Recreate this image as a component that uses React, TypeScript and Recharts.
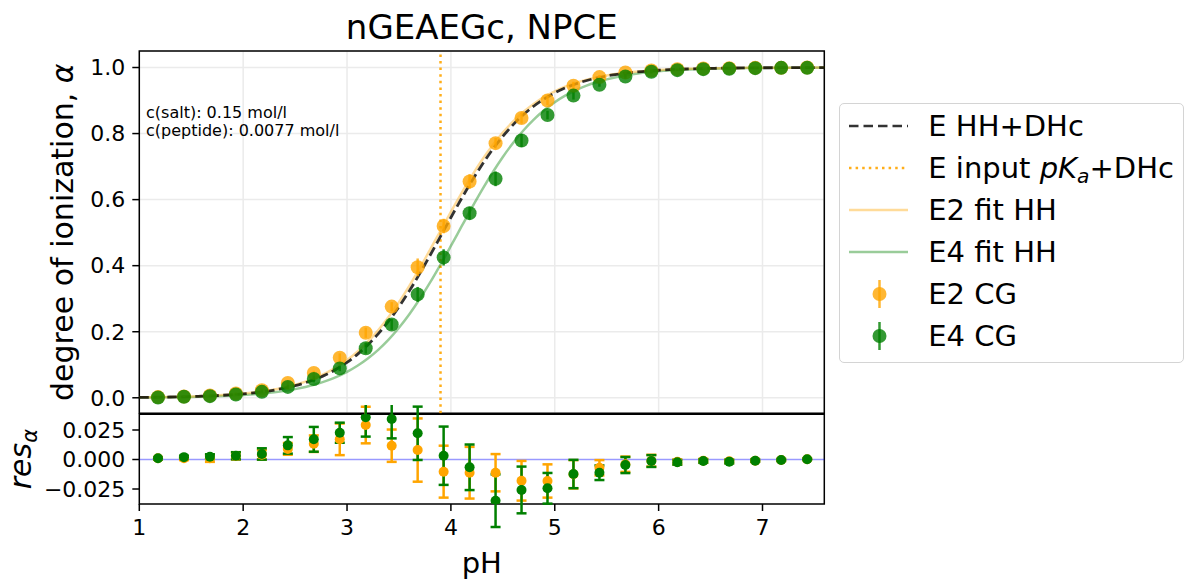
import React from 'react';
import { ComposedChart, Line, Scatter, ErrorBar, XAxis, YAxis, CartesianGrid, ReferenceLine, ReferenceArea, Label } from 'recharts';

const FONT = '"DejaVu Sans", sans-serif';
const ORANGE = '#FFA500';
const GREEN = '#008000';

// titration points (pH) and degree of ionization from the CG simulations
const pointPh = [1.18, 1.43, 1.68, 1.93, 2.18, 2.43, 2.68, 2.93, 3.18, 3.43, 3.68, 3.93, 4.18,
  4.43, 4.68, 4.93, 5.18, 5.43, 5.68, 5.93, 6.18, 6.43, 6.68, 6.93, 7.18, 7.43];
const e2Alpha = [0.002, 0.004, 0.007, 0.013, 0.023, 0.045, 0.075, 0.121, 0.197, 0.276, 0.395, 0.520, 0.655,
  0.771, 0.847, 0.900, 0.945, 0.971, 0.985, 0.991, 0.995, 0.997, 0.998, 0.999, 0.999, 1.000];
const e4Alpha = [0.001, 0.003, 0.005, 0.010, 0.018, 0.033, 0.057, 0.089, 0.150, 0.222, 0.313, 0.425, 0.559,
  0.663, 0.779, 0.856, 0.915, 0.948, 0.973, 0.987, 0.992, 0.995, 0.996, 0.998, 0.999, 0.999];
const e2Err = [0.001, 0.0015, 0.003, 0.003, 0.004, 0.005, 0.007, 0.0134, 0.0155, 0.0137, 0.0268, 0.022, 0.0219,
  0.0158, 0.0168, 0.0141, 0.012, 0.0065, 0.0065, 0.005, 0.002, 0.0015, 0.0015, 0.001, 0.0008, 0.0005];
const e4Err = [0.001, 0.0012, 0.002, 0.003, 0.0048, 0.007, 0.0105, 0.0085, 0.0164, 0.0164, 0.0226, 0.0247, 0.0193,
  0.0223, 0.0198, 0.013, 0.012, 0.0062, 0.0068, 0.005, 0.002, 0.0015, 0.0015, 0.001, 0.0008, 0.0005];
const e2Res = [0.001, 0.001, 0.001, 0.003, 0.004, 0.009, 0.0134, 0.0171, 0.0292, 0.0117, 0.008, -0.0103, -0.0112,
  -0.0112, -0.018, -0.0182, -0.0125, -0.007, -0.004, -0.001, -0.002, -0.001, -0.0015, -0.001, -0.0004, 0.0002];
const e4Res = [0.001, 0.002, 0.0024, 0.0032, 0.0047, 0.012, 0.0171, 0.0227, 0.0358, 0.0343, 0.0222, 0.0032, -0.0066,
  -0.0349, -0.0258, -0.0244, -0.0123, -0.0112, -0.0047, -0.0013, -0.0024, -0.0013, -0.0018, -0.001, -0.0004, 0.0002];

// smooth curves
const curvePh = [1.0, 1.1, 1.2, 1.3, 1.4, 1.5, 1.6, 1.7, 1.8, 1.9,
  2.0, 2.1, 2.2, 2.3, 2.4, 2.5, 2.6, 2.7, 2.8, 2.9,
  3.0, 3.1, 3.2, 3.3, 3.4, 3.5, 3.6, 3.7, 3.8, 3.9,
  4.0, 4.1, 4.2, 4.3, 4.4, 4.5, 4.6, 4.7, 4.8, 4.9,
  5.0, 5.1, 5.2, 5.3, 5.4, 5.5, 5.6, 5.7, 5.8, 5.9,
  6.0, 6.1, 6.2, 6.3, 6.4, 6.5, 6.6, 6.7, 6.8, 6.9,
  7.0, 7.1, 7.2, 7.3, 7.4, 7.5, 7.6];
const hhDhc = [0.0012, 0.0015, 0.0019, 0.0024, 0.0030, 0.0038, 0.0048, 0.0060, 0.0075, 0.0094,
  0.0119, 0.0149, 0.0187, 0.0234, 0.0293, 0.0366, 0.0457, 0.0568, 0.0705, 0.0872,
  0.1073, 0.1315, 0.1601, 0.1935, 0.2320, 0.2755, 0.3237, 0.3760, 0.4314, 0.4885,
  0.5459, 0.6020, 0.6558, 0.7057, 0.7513, 0.7918, 0.8271, 0.8576, 0.8835, 0.9052,
  0.9232, 0.9380, 0.9501, 0.9600, 0.9680, 0.9744, 0.9795, 0.9837, 0.9870, 0.9896,
  0.9917, 0.9934, 0.9948, 0.9958, 0.9967, 0.9974, 0.9979, 0.9983, 0.9987, 0.9990,
  0.9992, 0.9993, 0.9995, 0.9996, 0.9997, 0.9997, 0.9998];
const e2Fit = [0.0013, 0.0016, 0.0020, 0.0026, 0.0032, 0.0041, 0.0051, 0.0064, 0.0081, 0.0101,
  0.0127, 0.0160, 0.0200, 0.0251, 0.0313, 0.0391, 0.0488, 0.0607, 0.0752, 0.0928,
  0.1141, 0.1395, 0.1695, 0.2045, 0.2445, 0.2894, 0.3390, 0.3923, 0.4484, 0.5058,
  0.5630, 0.6185, 0.6711, 0.7199, 0.7639, 0.8029, 0.8368, 0.8659, 0.8905, 0.9110,
  0.9280, 0.9419, 0.9533, 0.9626, 0.9700, 0.9760, 0.9809, 0.9847, 0.9878, 0.9903,
  0.9923, 0.9939, 0.9951, 0.9961, 0.9969, 0.9975, 0.9981, 0.9984, 0.9988, 0.9990,
  0.9992, 0.9994, 0.9995, 0.9996, 0.9997, 0.9998, 0.9998];
const e4Fit = [0.0009, 0.0011, 0.0013, 0.0017, 0.0021, 0.0027, 0.0034, 0.0043, 0.0053, 0.0067,
  0.0084, 0.0106, 0.0133, 0.0167, 0.0209, 0.0262, 0.0328, 0.0409, 0.0510, 0.0633,
  0.0784, 0.0968, 0.1189, 0.1452, 0.1761, 0.2121, 0.2531, 0.2990, 0.3494, 0.4034,
  0.4598, 0.5172, 0.5743, 0.6294, 0.6813, 0.7291, 0.7721, 0.8101, 0.8430, 0.8712,
  0.8949, 0.9147, 0.9310, 0.9444, 0.9553, 0.9642, 0.9713, 0.9771, 0.9817, 0.9854,
  0.9884, 0.9908, 0.9926, 0.9941, 0.9953, 0.9963, 0.9971, 0.9977, 0.9981, 0.9985,
  0.9988, 0.9991, 0.9993, 0.9994, 0.9995, 0.9996, 0.9997];
const inputPka = 3.90;

const xTicks = [1, 2, 3, 4, 5, 6, 7];
const mainYTicks = [0, 0.2, 0.4, 0.6, 0.8, 1.0];
const resYTicks = [-0.025, 0, 0.025];
const X_DOMAIN: [number, number] = [1, 7.595];
const MAIN_Y_DOMAIN: [number, number] = [-0.047, 1.05];
const RES_Y_DOMAIN: [number, number] = [-0.0377, 0.0383];

const curve = (ys: number[]) => curvePh.map((ph, i) => ({ ph, a: ys[i] }));
const points = (ys: number[], errs: number[]) => pointPh.map((ph, i) => ({ ph, a: ys[i], err: errs[i] }));

const hhData = curve(hhDhc);
const e2FitData = curve(e2Fit);
const e4FitData = curve(e4Fit);
const e2Data = points(e2Alpha, e2Err);
const e4Data = points(e4Alpha, e4Err);
const e2ResData = points(e2Res, e2Err);
const e4ResData = points(e4Res, e4Err);

const tickStyle = { fill: '#000', fontSize: 22, fontFamily: FONT };
const tickLineStyle = { stroke: '#000', strokeWidth: 1.5 };
const fmtRes = (v: number) => (v < 0 ? '\u2212' : '') + Math.abs(v).toFixed(3);

const dot = (r: number, color: string, opacity: number) => (props: any) =>
  <circle cx={props.cx} cy={props.cy} r={r} fill={color} fillOpacity={opacity} />;

const MainYLabel = (props: any) => {
  const vb = props.viewBox;
  const x = vb.x + 73;
  const y = vb.y + vb.height / 2;
  return (
    <text x={x} y={y} transform={`rotate(-90, ${x}, ${y})`} textAnchor="middle" fontSize={30} fontFamily={FONT} fill="#000">
      degree of ionization, <tspan fontStyle="italic">α</tspan>
    </text>
  );
};

const ResYLabel = (props: any) => {
  const vb = props.viewBox;
  const x = vb.x + 31;
  const y = vb.y + vb.height / 2;
  return (
    <text x={x} y={y} transform={`rotate(-90, ${x}, ${y})`} textAnchor="middle" fontSize={30} fontFamily={FONT} fill="#000">
      <tspan fontStyle="italic">res</tspan>
      <tspan fontStyle="italic" fontSize={21} dy={6}>α</tspan>
    </text>
  );
};

const XLabel = (props: any) => {
  const vb = props.viewBox;
  return (
    <text x={vb.x + vb.width / 2} y={vb.y + 69} textAnchor="middle" fontSize={29} fontFamily={FONT} fill="#000">pH</text>
  );
};

const legendItems = [
  { key: 'hh', label: <>E HH+DHc</> },
  { key: 'pka', label: <>E input <i>pK</i><sub style={{ fontSize: '0.7em', verticalAlign: '-0.25em', lineHeight: 0 }}><i>a</i></sub>+DHc</> },
  { key: 'e2fit', label: <>E2 fit HH</> },
  { key: 'e4fit', label: <>E4 fit HH</> },
  { key: 'e2cg', label: <>E2 CG</> },
  { key: 'e4cg', label: <>E4 CG</> },
];

const LegendSample = ({ kind }: { kind: string }) => {
  const y = 21;
  switch (kind) {
    case 'hh':
      return <line x1={9} x2={68} y1={y} y2={y} stroke="#000" strokeOpacity={0.8} strokeWidth={2.5} strokeDasharray="9.5 5" />;
    case 'pka':
      return <line x1={9} x2={68} y1={y} y2={y} stroke={ORANGE} strokeOpacity={0.9} strokeWidth={2.5} strokeDasharray="2.5 4.1" />;
    case 'e2fit':
      return <line x1={9} x2={68} y1={y} y2={y} stroke={ORANGE} strokeOpacity={0.4} strokeWidth={2.5} />;
    case 'e4fit':
      return <line x1={9} x2={68} y1={y} y2={y} stroke={GREEN} strokeOpacity={0.4} strokeWidth={2.5} />;
    default: {
      const c = kind === 'e2cg' ? ORANGE : GREEN;
      return (
        <g>
          <line x1={39.5} x2={39.5} y1={y - 14} y2={y + 14} stroke={c} strokeOpacity={0.8} strokeWidth={2.5} />
          <circle cx={39.5} cy={y} r={7} fill={c} fillOpacity={0.8} />
        </g>
      );
    }
  }
};

const LegendBox = () => (
  <div style={{
    position: 'absolute', left: 839.3, top: 102.7, width: 344.5, height: 260.6, boxSizing: 'border-box',
    border: '1.5px solid #d4d4d4', borderRadius: 5, background: 'rgba(255,255,255,0.8)',
    paddingTop: 1.5, fontFamily: FONT, fontSize: 29, color: '#000',
  }}>
    {legendItems.map(item => (
      <div key={item.key} style={{ height: 42, display: 'flex', alignItems: 'center' }}>
        <svg width={88} height={42} style={{ flex: 'none', display: 'block' }}>
          <LegendSample kind={item.key} />
        </svg>
        <span style={{ lineHeight: '42px', whiteSpace: 'nowrap' }}>{item.label}</span>
      </div>
    ))}
  </div>
);

export default function App() {
  return (
    <div style={{ position: 'absolute', left: 0, top: 0, width: 1186, height: 581, background: '#fff', fontFamily: FONT }}>
      <div style={{ position: 'absolute', left: 139.3, width: 685, top: 10, textAlign: 'center', fontSize: 34, lineHeight: '34px' }}>
        nGEAEGc, NPCE
      </div>

      <div style={{ position: 'absolute', left: 0, top: 0 }}>
        <ComposedChart width={1186} height={420} margin={{ top: 51, right: 361.7, bottom: 6.7, left: 0 }}>
          <CartesianGrid stroke="#ebebeb" strokeWidth={1.5} />
          <XAxis type="number" dataKey="ph" domain={X_DOMAIN} ticks={xTicks} allowDataOverflow hide />
          <YAxis type="number" domain={MAIN_Y_DOMAIN} ticks={mainYTicks} width={139.3} allowDataOverflow interval={0}
            tick={tickStyle} tickLine={tickLineStyle} axisLine={false} tickSize={7} tickMargin={7}
            tickFormatter={(v: number) => v.toFixed(1)}>
            <Label content={MainYLabel} />
          </YAxis>
          <ReferenceLine x={inputPka} stroke={ORANGE} strokeOpacity={0.9} strokeWidth={2.5} strokeDasharray="2.5 4.1" />
          <Line data={e4FitData} dataKey="a" type="monotone" stroke={GREEN} strokeOpacity={0.4} strokeWidth={2.5} dot={false} isAnimationActive={false} />
          <Line data={e2FitData} dataKey="a" type="monotone" stroke={ORANGE} strokeOpacity={0.4} strokeWidth={2.5} dot={false} isAnimationActive={false} />
          <Line data={hhData} dataKey="a" type="monotone" stroke="#000" strokeOpacity={0.8} strokeWidth={2.8} strokeDasharray="9.5 4.5" dot={false} isAnimationActive={false} />
          <Scatter data={e2Data} dataKey="a" shape={dot(7, ORANGE, 0.8)} isAnimationActive={false}>
            <ErrorBar dataKey="err" direction="y" width={0} stroke={ORANGE} strokeOpacity={0.8} strokeWidth={2.5} />
          </Scatter>
          <Scatter data={e4Data} dataKey="a" shape={dot(7, GREEN, 0.8)} isAnimationActive={false}>
            <ErrorBar dataKey="err" direction="y" width={0} stroke={GREEN} strokeOpacity={0.8} strokeWidth={2.5} />
          </Scatter>
          <ReferenceArea x1={X_DOMAIN[0]} x2={X_DOMAIN[1]} y1={MAIN_Y_DOMAIN[0]} y2={MAIN_Y_DOMAIN[1]}
            fill="none" fillOpacity={0} stroke="#000" strokeWidth={1.5} />
        </ComposedChart>
      </div>

      <div style={{ position: 'absolute', left: 146, top: 103.9, fontSize: 16, lineHeight: '17.7px', color: '#000' }}>
        c(salt): 0.15 mol/l<br />c(peptide): 0.0077 mol/l
      </div>

      <div style={{ position: 'absolute', left: 0, top: 405 }}>
        <ComposedChart width={1186} height={176} margin={{ top: 9.3, right: 361.7, bottom: 0, left: 0 }}>
          <XAxis type="number" dataKey="ph" domain={X_DOMAIN} ticks={xTicks} height={77} allowDataOverflow interval={0}
            tick={tickStyle} tickLine={tickLineStyle} axisLine={false} tickSize={7} tickMargin={8}>
            <Label content={XLabel} />
          </XAxis>
          <YAxis type="number" domain={RES_Y_DOMAIN} ticks={resYTicks} width={139.3} allowDataOverflow interval={0}
            tick={tickStyle} tickLine={tickLineStyle} axisLine={false} tickSize={7} tickMargin={7}
            tickFormatter={fmtRes}>
            <Label content={ResYLabel} />
          </YAxis>
          <ReferenceLine y={0} stroke="#0000ff" strokeOpacity={0.4} strokeWidth={1.5} />
          <Scatter data={e2ResData} dataKey="a" shape={dot(5, ORANGE, 1)} isAnimationActive={false}>
            <ErrorBar dataKey="err" direction="y" width={5} stroke={ORANGE} strokeWidth={2.5} />
          </Scatter>
          <Scatter data={e4ResData} dataKey="a" shape={dot(5, GREEN, 1)} isAnimationActive={false}>
            <ErrorBar dataKey="err" direction="y" width={5} stroke={GREEN} strokeWidth={2.5} />
          </Scatter>
          <ReferenceArea x1={X_DOMAIN[0]} x2={X_DOMAIN[1]} y1={RES_Y_DOMAIN[0]} y2={RES_Y_DOMAIN[1]}
            fill="none" fillOpacity={0} stroke="#000" strokeWidth={1.5} />
        </ComposedChart>
      </div>

      <LegendBox />
    </div>
  );
}
